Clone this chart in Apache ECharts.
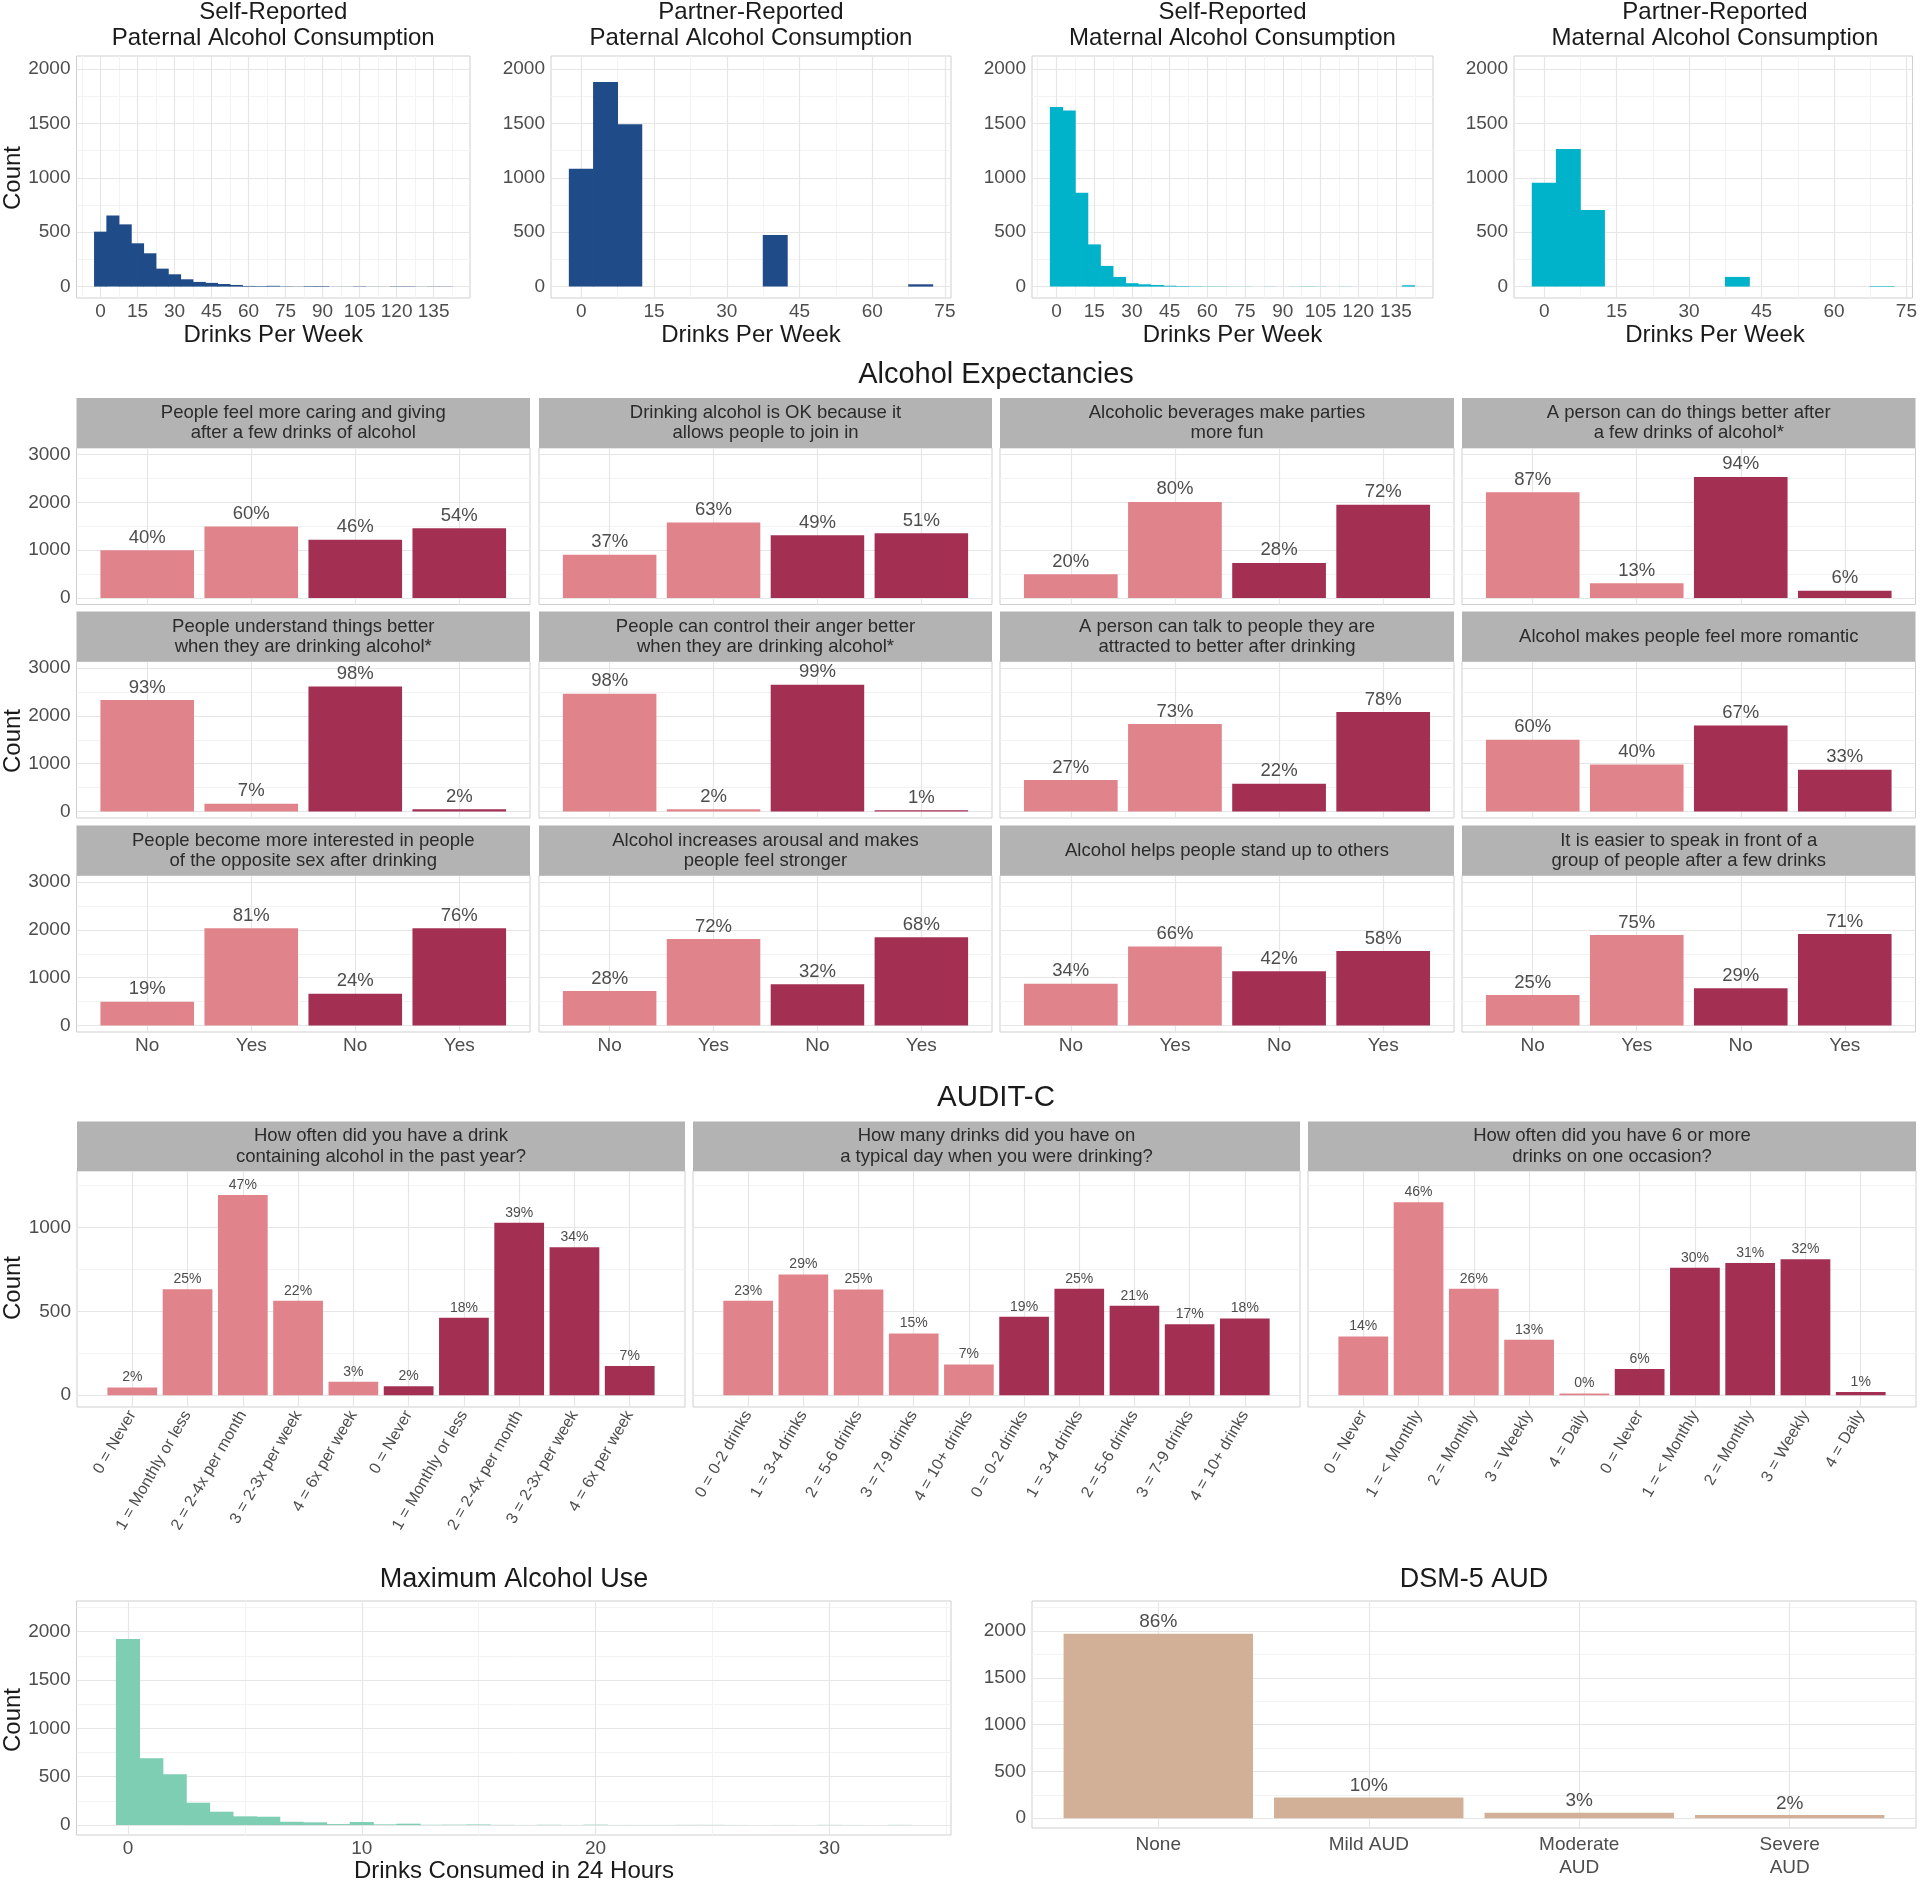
<!DOCTYPE html>
<html><head><meta charset="utf-8">
<script src="https://cdn.jsdelivr.net/npm/echarts@6/dist/echarts.min.js"></script>
<style>html,body{margin:0;padding:0;background:#fff}#c{width:1920px;height:1882px}</style>
</head><body><div id="c"></div>
<script>
// ================= DATA =================
const histTitles = ['Self-Reported\nPaternal Alcohol Consumption','Partner-Reported\nPaternal Alcohol Consumption','Self-Reported\nMaternal Alcohol Consumption','Partner-Reported\nMaternal Alcohol Consumption'];
const histXTitle = 'Drinks Per Week';
const selfBinCenters = [0,5,10,15,20,25,30,35,40,45,50,55,60,65,70,75,80,85,90,95,100,105,110,115,120,125,130,135,140];
const selfPaternalCounts = [505,654,572,398,306,165,113,67,43,34,24,15,6,5,7,3,2,5,5,1,1,3,1,1,3,3,1,2,2];
const selfMaternalCounts = [1651,1618,862,388,190,89,31,21,15,8,5,3,2,2,1,1,0,1,0,1,2,1,0,1,0,0,0,0,12];
const partnerBinCenters = [0,5,10,15,20,25,30,35,40,45,50,55,60,65,70];
const partnerPaternalCounts = [1083,1881,1492,0,0,0,0,0,474,0,0,0,0,0,21];
const partnerMaternalCounts = [954,1266,703,0,0,0,0,0,89,0,0,0,0,0,5];
const weekBinWidth = 5;
const weekTicksWide = [0,15,30,45,60,75,90,105,120,135];
const weekTicksNarrow = [0,15,30,45,60,75];
const countTicks2000 = [0,500,1000,1500,2000];

const expSectionTitle = 'Alcohol Expectancies';
const expTitles = [
 'People feel more caring and giving\nafter a few drinks of alcohol',
 'Drinking alcohol is OK because it\nallows people to join in',
 'Alcoholic beverages make parties\nmore fun',
 'A person can do things better after\na few drinks of alcohol*',
 'People understand things better\nwhen they are drinking alcohol*',
 'People can control their anger better\nwhen they are drinking alcohol*',
 'A person can talk to people they are\nattracted to better after drinking',
 'Alcohol makes people feel more romantic',
 'People become more interested in people\nof the opposite sex after drinking',
 'Alcohol increases arousal and makes\npeople feel stronger',
 'Alcohol helps people stand up to others',
 'It is easier to speak in front of a\ngroup of people after a few drinks'
];
const expCats = ['No','Yes','No','Yes'];
const expCounts = [
 [1000,1495,1219,1457],
 [905,1581,1314,1352],
 [495,2010,733,1952],
 [2210,305,2533,152],
 [2334,160,2615,47],
 [2465,47,2652,25],
 [656,1828,581,2081],
 [1500,984,1800,872],
 [497,2034,665,2034],
 [722,1809,862,1846],
 [872,1650,1134,1556],
 [637,1893,778,1912]
];
const expPct = [
 ['40%','60%','46%','54%'],
 ['37%','63%','49%','51%'],
 ['20%','80%','28%','72%'],
 ['87%','13%','94%','6%'],
 ['93%','7%','98%','2%'],
 ['98%','2%','99%','1%'],
 ['27%','73%','22%','78%'],
 ['60%','40%','67%','33%'],
 ['19%','81%','24%','76%'],
 ['28%','72%','32%','68%'],
 ['34%','66%','42%','58%'],
 ['25%','75%','29%','71%']
];
const expTicks = [0,1000,2000,3000];

const auditSectionTitle = 'AUDIT-C';
const auditTitles = [
 'How often did you have a drink\ncontaining alcohol in the past year?',
 'How many drinks did you have on\na typical day when you were drinking?',
 'How often did you have 6 or more\ndrinks on one occasion?'
];
const auditCats = [
 ['0 = Never','1 = Monthly or less','2 = 2-4x per month','3 = 2-3x per week','4 = 6x per week','0 = Never','1 = Monthly or less','2 = 2-4x per month','3 = 2-3x per week','4 = 6x per week'],
 ['0 = 0-2 drinks','1 = 3-4 drinks','2 = 5-6 drinks','3 = 7-9 drinks','4 = 10+ drinks','0 = 0-2 drinks','1 = 3-4 drinks','2 = 5-6 drinks','3 = 7-9 drinks','4 = 10+ drinks'],
 ['0 = Never','1 = < Monthly','2 = Monthly','3 = Weekly','4 = Daily','0 = Never','1 = < Monthly','2 = Monthly','3 = Weekly','4 = Daily']
];
const auditCounts = [
 [46,632,1193,563,80,54,461,1028,881,175],
 [563,720,630,368,183,467,634,533,423,457],
 [350,1150,634,330,10,156,760,788,810,20]
];
const auditPct = [
 ['2%','25%','47%','22%','3%','2%','18%','39%','34%','7%'],
 ['23%','29%','25%','15%','7%','19%','25%','21%','17%','18%'],
 ['14%','46%','26%','13%','0%','6%','30%','31%','32%','1%']
];
const auditTicks = [0,500,1000];

const maxTitle = 'Maximum Alcohol Use';
const maxXTitle = 'Drinks Consumed in 24 Hours';
const maxBinCenters = [0,1,2,3,4,5,6,7,8,9,10,11,12,13,14,15,16,17,18,19,20,21,22,23,24,25,26,27,28,29,30,31,32,33];
const maxCounts = [1924,690,524,231,138,90,86,34,28,10,31,7,14,3,4,6,2,1,3,1,4,1,1,1,2,2,1,0,1,0,2,1,0,2];
const maxBinWidth = 1;
const maxXTicks = [0,10,20,30];

const dsmTitle = 'DSM-5 AUD';
const dsmCats = ['None','Mild AUD','Moderate\nAUD','Severe\nAUD'];
const dsmCounts = [1971,221,60,36];
const dsmPct = ['86%','10%','3%','2%'];

const yTitle = 'Count';

// ================= STYLE =================
const FONT = '"Liberation Sans", Arial, Helvetica, sans-serif';
const C = {
  blue:'#1F4B89', cyan:'#00B2CA', pink:'#E1838B', crimson:'#A33053', mint:'#7DCEB2', tan:'#D2AF97',
  strip:'#B3B3B3', border:'#CFCFCF', major:'#E6E6E6', minor:'#F3F3F3', tick:'#4D4D4D', title:'#1A1A1A', stripText:'#2B2B2B'
};

const grids=[], xAxes=[], yAxes=[], series=[], graphics=[];

function minorOf(major, min, max){
  const step = major[1]-major[0];
  const ext = [major[0]-step].concat(major, [major[major.length-1]+step]);
  const out=[];
  for(let i=0;i<ext.length-1;i++){ const m=(ext[i]+ext[i+1])/2; if(m>min && m<max) out.push(m); }
  return out;
}
function axis(gi, min, max, major, fmt, extra){
  return {type:'value', gridIndex:gi, min:min, max:max,
    axisLine:{show:false}, axisTick:{show:false, customValues:major}, splitLine:{show:false}, minorSplitLine:{show:false},
    axisLabel:Object.assign({customValues:major, formatter:fmt||(v=>String(v)), color:C.tick, fontFamily:FONT, fontSize:19}, extra||{})};
}
function addPanel(p){
  const gi = grids.length;
  grids.push({left:p.l, top:p.t, width:p.w, height:p.h, show:true, backgroundColor:'#fff', borderColor:C.border, borderWidth:1, containLabel:false});
  xAxes.push(axis(gi, p.x[0], p.x[1], p.xMajor, p.xFmt, Object.assign({margin:4, show:p.showX!==false}, p.xLabel||{})));
  yAxes.push(axis(gi, p.y[0], p.y[1], p.yMajor, null, {margin:6, show:p.showY!==false}));
  const ml=[];
  if(p.xMinor!==false) minorOf(p.xMajor,p.x[0],p.x[1]).forEach(v=>ml.push({xAxis:v, lineStyle:{color:C.minor,width:1,type:'solid'}}));
  minorOf(p.yMajor,p.y[0],p.y[1]).forEach(v=>ml.push({yAxis:v, lineStyle:{color:C.minor,width:1,type:'solid'}}));
  p.xMajor.forEach(v=>ml.push({xAxis:v, lineStyle:{color:C.major,width:1.2,type:'solid'}}));
  p.yMajor.forEach(v=>ml.push({yAxis:v, lineStyle:{color:C.major,width:1.2,type:'solid'}}));
  series.push({type:'line', xAxisIndex:gi, yAxisIndex:gi, data:[], silent:true, z:1,
    markLine:{silent:true, z:1, animation:false, symbol:['none','none'], label:{show:false}, emphasis:{disabled:true}, lineStyle:{type:'solid'}, data:ml}});
  return gi;
}
function addHist(gi, centers, counts, width, color){
  series.push({type:'custom', xAxisIndex:gi, yAxisIndex:gi, silent:true, z:2, animation:false,
    data: centers.map((c,i)=>[c, counts[i]]),
    renderItem:(params, api)=>{
      const c=api.value(0), n=api.value(1);
      const a=api.coord([c-width/2, n]), b=api.coord([c+width/2, 0]);
      return {type:'rect', shape:{x:a[0]-0.35, y:a[1], width:b[0]-a[0]+0.7, height:b[1]-a[1]},
        style:{fill:color}};
    }});
}
function addBars(gi, counts, labels, colors, width, fontSize, gap){
  series.push({type:'custom', xAxisIndex:gi, yAxisIndex:gi, silent:true, z:2, animation:false,
    data: counts.map((n,i)=>[i+1, n]),
    renderItem:(params, api)=>{
      const i=params.dataIndex, x=api.value(0), n=api.value(1);
      const a=api.coord([x-width/2, n]), b=api.coord([x+width/2, 0]);
      return {type:'group', children:[
        {type:'rect', shape:{x:a[0], y:a[1], width:b[0]-a[0], height:b[1]-a[1]}, style:{fill:colors[i]}},
        {type:'text', x:(a[0]+b[0])/2, y:a[1]-gap, style:{text:labels[i], fill:C.tick, font:fontSize+'px '+FONT, align:'center', verticalAlign:'bottom', textAlign:'center', textVerticalAlign:'bottom'}}
      ]};
    }});
}
function txt(x, y, text, size, opts){
  opts = opts||{};
  graphics.push({type:'text', x:x, y:y, rotation:opts.rot||0, z:10, silent:true,
    style:{text:text, fill:opts.color||C.title, font:size+'px '+FONT, lineHeight:opts.lh||Math.round(size*1.1),
      align:'center', verticalAlign:'middle', textAlign:'center', textVerticalAlign:'middle'}});
}
function strip(l, t, w, h, text, size, lh){
  graphics.push({type:'rect', shape:{x:l, y:t, width:w, height:h}, style:{fill:C.strip}, z:5, silent:true});
  txt(l+w/2, t+h/2, text, size, {color:C.stripText, lh:lh});
}

// ================= LAYOUT =================
// Top row histograms
const topT=56, topH=242;
const topPanels = [
  {l:76.5, w:393.5, x:[-9.75,149.75], ticks:weekTicksWide, centers:selfBinCenters, counts:selfPaternalCounts, color:C.blue},
  {l:551, w:400, x:[-6.25,76.25], ticks:weekTicksNarrow, centers:partnerBinCenters, counts:partnerPaternalCounts, color:C.blue},
  {l:1032, w:401, x:[-9.75,149.75], ticks:weekTicksWide, centers:selfBinCenters, counts:selfMaternalCounts, color:C.cyan},
  {l:1514, w:402, x:[-6.25,76.25], ticks:weekTicksNarrow, centers:partnerBinCenters, counts:partnerMaternalCounts, color:C.cyan}
];
topPanels.forEach((p,i)=>{
  const gi = addPanel({l:p.l, t:topT, w:p.w, h:topH, x:p.x, y:[-105,2120], xMajor:p.ticks, yMajor:countTicks2000});
  addHist(gi, p.centers, p.counts, weekBinWidth, p.color);
  txt(p.l+p.w/2, 25, histTitles[i], 24, {lh:26});
  txt(p.l+p.w/2, 335.5, histXTitle, 24);
});
txt(13, 178, yTitle, 24, {rot:Math.PI/2});

// Expectancies
txt(996, 375, expSectionTitle, 29);
const expCols = [{l:76.5,w:453.5},{l:539,w:453},{l:1000,w:454},{l:1462,w:453.5}];
const expStripT = [398, 611.5, 825.5];
const expColors = [C.pink, C.pink, C.crimson, C.crimson];
for(let r=0;r<3;r++){
  for(let c=0;c<4;c++){
    const k=r*4+c, col=expCols[c];
    strip(col.l, expStripT[r], col.w, 50, expTitles[k], 18.5, 20);
    const gi = addPanel({l:col.l, t:expStripT[r]+50, w:col.w, h:156.5, x:[0.32,4.68], y:[-138,3138],
      xMajor:[1,2,3,4], xMinor:false, yMajor:expTicks, xFmt:v=>expCats[v-1],
      showX:r===2, showY:c===0});
    addBars(gi, expCounts[k], expPct[k], expColors, 0.9, 18.5, 3);
  }
}
txt(13, 741, yTitle, 24, {rot:Math.PI/2});

// AUDIT-C
txt(996, 1098, auditSectionTitle, 29.5);
const audCols = [{l:77,w:608},{l:693,w:607},{l:1308,w:608}];
const audColors = [C.pink,C.pink,C.pink,C.pink,C.pink,C.crimson,C.crimson,C.crimson,C.crimson,C.crimson];
audCols.forEach((col,k)=>{
  strip(col.l, 1121.5, col.w, 49.5, auditTitles[k], 18.5, 21);
  const gi = addPanel({l:col.l, t:1171, w:col.w, h:236, x:[0,11], y:[-70,1336],
    xMajor:[1,2,3,4,5,6,7,8,9,10], xMinor:false, yMajor:auditTicks, xFmt:v=>auditCats[k][v-1],
    xLabel:{rotate:60, fontSize:16, margin:5}, showY:k===0});
  addBars(gi, auditCounts[k], auditPct[k], audColors, 0.9, 14, 3);
});
txt(13, 1288, yTitle, 24, {rot:Math.PI/2});

// Maximum alcohol use
txt(514, 1580, maxTitle, 27);
{
  const gi = addPanel({l:76.5, t:1601, w:874.5, h:234, x:[-2.2,35.2], y:[-103,2317], xMajor:maxXTicks, yMajor:countTicks2000});
  addHist(gi, maxBinCenters, maxCounts, maxBinWidth, C.mint);
}
txt(514, 1871, maxXTitle, 24);
txt(13, 1720, yTitle, 24, {rot:Math.PI/2});

// DSM-5 AUD
txt(1474, 1580, dsmTitle, 27);
{
  const gi = addPanel({l:1032, t:1601, w:884, h:227, x:[0.4,4.6], y:[-104,2320], xMajor:[1,2,3,4], xMinor:false,
    yMajor:countTicks2000, xFmt:v=>dsmCats[v-1], xLabel:{lineHeight:23, margin:5}});
  addBars(gi, dsmCounts, dsmPct, [C.tan,C.tan,C.tan,C.tan], 0.9, 19, 2);
}

const chart = echarts.init(document.getElementById('c'), null, {renderer:'canvas'});
chart.setOption({
  animation:false, backgroundColor:'#fff',
  textStyle:{fontFamily:FONT},
  grid:grids, xAxis:xAxes, yAxis:yAxes, series:series,
  graphic:{elements:graphics}
});
</script>
</body></html>
